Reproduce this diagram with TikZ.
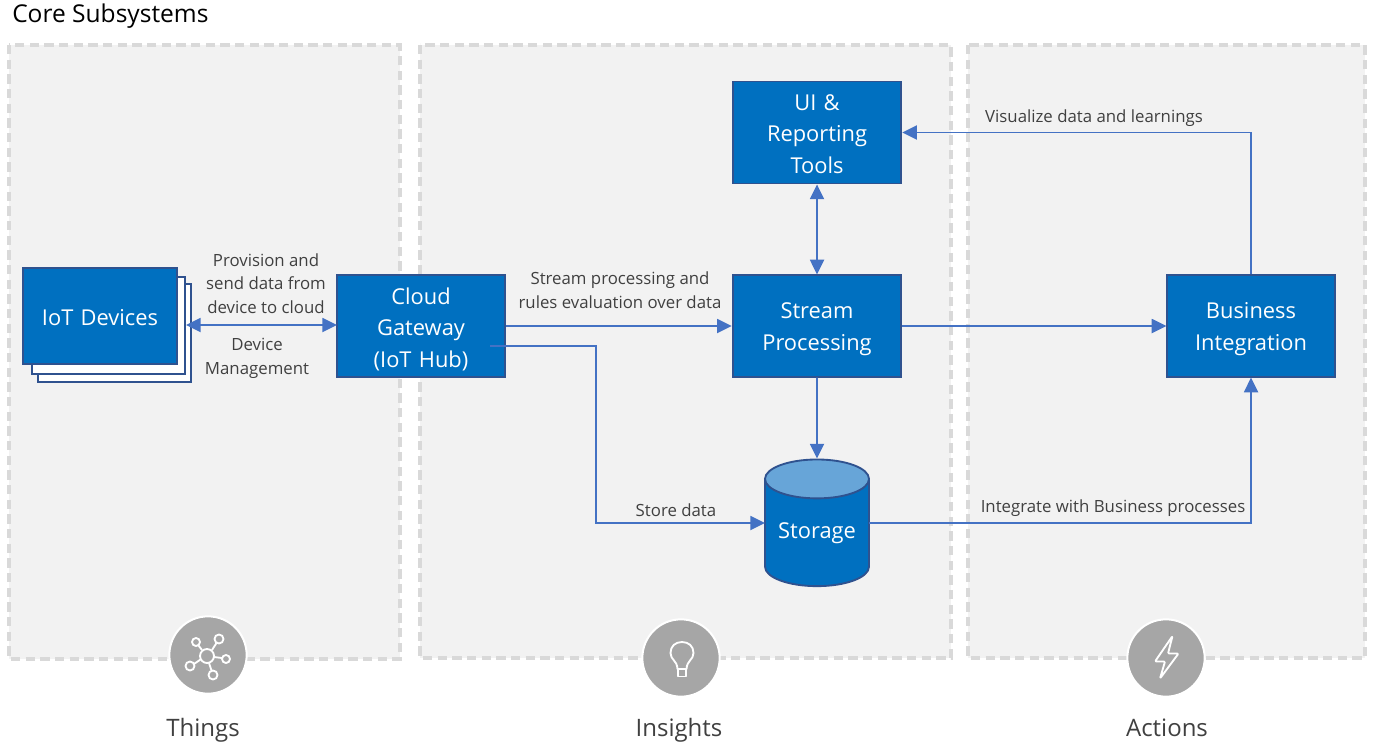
\documentclass[tikz,border=0pt]{standalone}
\usepackage{fontspec}
\setmainfont{Open Sans}
\usetikzlibrary{arrows.meta,shapes.geometric}
\definecolor{panelgray}{HTML}{F2F2F2}
\definecolor{dashgray}{HTML}{D9D9D9}
\definecolor{boxblue}{HTML}{0070C0}
\definecolor{boxline}{HTML}{2F528F}
\definecolor{arrowblue}{HTML}{4472C4}
\definecolor{lidblue}{HTML}{67A5D8}
\definecolor{icongray}{HTML}{A6A6A6}
\definecolor{labelgray}{HTML}{404040}
\tikzset{
	panel/.style={draw=dashgray,fill=panelgray,line width=2.4pt,dash pattern=on 7pt off 4pt},
	subsystem/.style={draw=boxline,fill=boxblue,text=white,line width=1.4pt,align=center,inner sep=0pt,
		font=\fontsize{16.4}{23.6}\selectfont,text width=120pt,minimum height=76pt,
		execute at begin node={\rule{0pt}{17pt}}},
	sheet/.style={draw=boxline,fill=white,line width=1.4pt},
	link/.style={draw=arrowblue,line width=1.4pt,-{Triangle[length=11pt,width=10.5pt]}},
	twolink/.style={link,{Triangle[length=11pt,width=10.5pt]}-{Triangle[length=11pt,width=10.5pt]}},
	flowlabel/.style={text=labelgray,align=center,inner sep=0pt,font=\fontsize{12.6}{17.6}\selectfont},
	badge/.style={circle,fill=icongray,draw=white,line width=1.5pt,minimum size=58pt,inner sep=0pt},
	iconline/.style={draw=white,line width=1.4pt,line join=round},
	caption/.style={text=labelgray,inner sep=0pt,anchor=base,font=\fontsize{18}{21}\selectfont}
}
\begin{document}
\begin{tikzpicture}[x=0.75pt,y=-0.75pt]

	\useasboundingbox (0,0) rectangle (1374,750);

	\node[inner sep=0pt,anchor=base west,font=\fontsize{18.4}{21}\selectfont] (title) at (12,22) {Core Subsystems};

	\draw[panel] (9,45) rectangle (400,659);
	\draw[panel] (420,45) rectangle (951,658);
	\draw[panel] (968,45) rectangle (1365,658);

	\draw[sheet] (38,284) rectangle (191,382);
	\draw[sheet] (32,277) rectangle (185,374);

	\node[subsystem,text width=115pt,minimum height=72.5pt] (devices) at (100,316) {\raisebox{1.5pt}{IoT Devices}};
	\node[subsystem,text width=125.5pt] (gateway) at (421,326) {Cloud\\Gateway\\(IoT Hub)};
	\node[subsystem,text width=126.5pt,minimum height=76.5pt] (reporting) at (817,132.5) {\raisebox{1.5pt}{UI \&}\\\raisebox{1.5pt}{Reporting}\\\raisebox{1.5pt}{Tools}};
	\node[subsystem,text width=126.5pt] (stream) at (817,326) {Stream\\Processing};
	\node[subsystem,text width=125.5pt] (business) at (1251,326) {Business\\Integration};
	\node[cylinder,shape border rotate=90,aspect=0.5,draw=boxline,line width=1.4pt,text=white,
		cylinder uses custom fill,cylinder body fill=boxblue,cylinder end fill=lidblue,
		minimum width=78pt,minimum height=95pt,inner sep=0pt,
		font=\fontsize{16.4}{23.6}\selectfont] (storage) at (817,533) {Storage};

	\coordinate (devicesport) at (186,325);
	\coordinate (gatewayport) at (337,325);
	\coordinate (gatewaytap) at (490,346);
	\coordinate (storagebend) at (596,430);
	\coordinate (storagein) at (765,523);
	\coordinate (storageout) at (869,523);

	\draw[twolink] (devicesport) -- (gatewayport);
	\draw[link] (gateway.east) -- (stream.west);
	\draw[link] (gatewaytap) -| (storagebend) |- (storagein);
	\draw[link] (stream.east) -- (business.west);
	\draw[twolink] (reporting.south) -- (stream.north);
	\draw[link] (stream.south) -- (storage.north);
	\draw[link] (storageout) -| (business.south);
	\draw[link] (business.north) |- (reporting.east);

	\node[flowlabel] (provision) at (266,283.5) {Provision and\\send data from\\device to cloud};
	\node[flowlabel] (management) at (257,358.5) {Device\\Management};
	\node[flowlabel] (evaluation) at (620,290) {Stream processing and\\rules evaluation over data};
	\node[flowlabel] (store) at (676,510) {Store data};
	\node[flowlabel] (integrate) at (1113,508) {Integrate with Business processes};
	\node[flowlabel] (visualize) at (1094,118) {Visualize data and learnings};

	\node[badge] (things) at (208,655) {};
	\node[badge] (insights) at (681,658) {};
	\node[badge] (actions) at (1166,658) {};

	\draw[iconline] (207,656) circle(7); \draw[iconline] (196,642) circle(4);
	\draw[iconline] (219,639) circle(4.5); \draw[iconline] (226,659) circle(4);
	\draw[iconline] (213,675) circle(4.5); \draw[iconline] (190,666) circle(4.5);
	\draw[iconline] (202,650) -- (198.5,645.5); \draw[iconline] (212,650) -- (216.5,643);
	\draw[iconline] (214,657) -- (222,658); \draw[iconline] (209,663) -- (211.5,670.5);
	\draw[iconline] (200.5,659.5) -- (194,664);

	\draw[iconline] (677.5,669) .. controls (677,660) and (670.5,660) .. (670.5,653)
		.. controls (670.5,646) and (675.5,642) .. (682,642)
		.. controls (688.5,642) and (693.5,646) .. (693.5,653)
		.. controls (693.5,660) and (687,660) .. (686.5,669) -- cycle;
	\draw[iconline] (678,669) -- (678,676.5) -- (686,676.5) -- (686,669);

	\draw[iconline,rounded corners=0.8pt] (1172.5,636) -- (1155,661.5) -- (1165,661.5)
		-- (1160,678.5) -- (1178.5,653.5) -- (1168,653.5) -- cycle;

	\node[caption] (thingslabel) at (203,736) {Things};
	\node[caption] (insightslabel) at (679,736) {Insights};
	\node[caption] (actionslabel) at (1167,736) {Actions};

\end{tikzpicture}
\end{document}
